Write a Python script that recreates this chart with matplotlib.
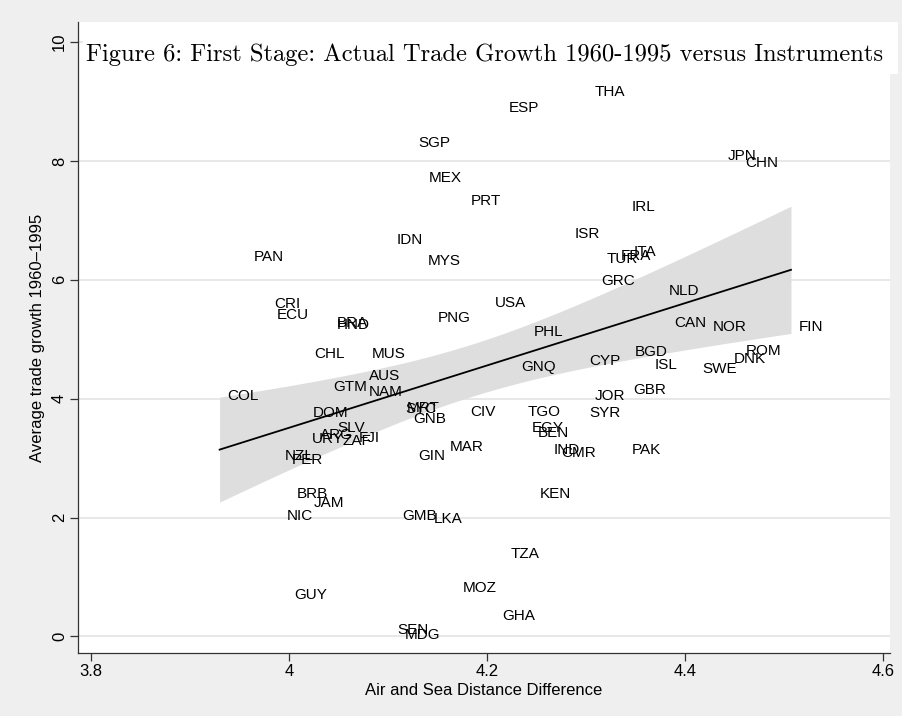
import matplotlib
matplotlib.use("Agg")
import matplotlib.pyplot as plt
from matplotlib.patches import Rectangle
import numpy as np

# country codes, air-and-sea distance difference, trade growth 1960-1995
countries = [
    "THA", "ESP", "SGP", "JPN", "CHN", "MEX", "PRT", "IRL", "IDN", "ISR",
    "PAN", "MYS", "ITA", "FRA", "TUR", "GRC", "NLD", "CRI", "ECU", "USA",
    "BRA", "HND", "PNG", "PHL", "CAN", "NOR", "FIN", "CHL", "MUS", "BGD",
    "ROM", "CYP", "ISL", "DNK", "SWE", "GNQ", "AUS", "GTM", "NAM", "COL",
    "GBR", "JOR", "MRT", "SYC", "DOM", "CIV", "TGO", "SYR", "GNB", "SLV",
    "ARG", "URY", "ZAF", "FJI", "EGY", "BEN", "IND", "CMR", "PAK", "MAR",
    "GIN", "NZL", "PER", "KEN", "BRB", "JAM", "NIC", "GMB", "LKA", "TZA",
    "GUY", "MOZ", "GHA", "SEN", "MDG",
]
dist_diff = [
    4.301, 4.214, 4.123, 4.435, 4.453, 4.133, 4.176, 4.338, 4.101, 4.281,
    3.957, 4.132, 4.340, 4.327, 4.313, 4.308, 4.376, 3.977, 3.980, 4.200,
    4.041, 4.041, 4.143, 4.240, 4.381, 4.420, 4.507, 4.018, 4.076, 4.342,
    4.454, 4.296, 4.362, 4.441, 4.410, 4.227, 4.073, 4.037, 4.073, 3.930,
    4.340, 4.301, 4.111, 4.110, 4.016, 4.175, 4.233, 4.296, 4.118, 4.041,
    4.024, 4.015, 4.046, 4.063, 4.238, 4.244, 4.260, 4.267, 4.338, 4.155,
    4.123, 3.988, 3.995, 4.246, 4.000, 4.017, 3.990, 4.107, 4.139, 4.216,
    3.998, 4.168, 4.208, 4.102, 4.109,
]
trade_growth = [
    9.16, 8.89, 8.30, 8.08, 7.97, 7.71, 7.33, 7.23, 6.67, 6.77,
    6.39, 6.32, 6.47, 6.40, 6.35, 5.98, 5.82, 5.60, 5.41, 5.61,
    5.28, 5.24, 5.36, 5.13, 5.28, 5.21, 5.21, 4.76, 4.76, 4.79,
    4.81, 4.64, 4.57, 4.67, 4.50, 4.54, 4.39, 4.20, 4.12, 4.05,
    4.15, 4.05, 3.85, 3.82, 3.76, 3.78, 3.78, 3.76, 3.66, 3.50,
    3.39, 3.33, 3.28, 3.34, 3.51, 3.43, 3.14, 3.08, 3.13, 3.18,
    3.04, 3.04, 2.96, 2.40, 2.39, 2.24, 2.03, 2.03, 1.97, 1.38,
    0.69, 0.81, 0.34, 0.10, 0.03,
]

# fitted line (the published fit is a bit steeper
# than an OLS on the labelled points alone)
fit_slope = 5.245
fit_intercept = -17.47

x = np.array(dist_diff)
y = np.array(trade_growth)

# 95% CI of the mean prediction around that line (like Stata lfitci)
n = len(x)
resid = y - (fit_intercept + fit_slope * x)
s = np.sqrt(np.sum(resid ** 2) / (n - 2))
sxx = np.sum((x - x.mean()) ** 2)
xs = np.linspace(x.min(), x.max(), 200)
fit = fit_intercept + fit_slope * xs
se = s * np.sqrt(1 / n + (xs - x.mean()) ** 2 / sxx)
tcrit = 1.993

sans = ["Liberation Sans", "DejaVu Sans"]
fig = plt.figure(figsize=(9.02, 7.16), dpi=100, facecolor="#efefef")
ax = fig.add_axes([78 / 902, 1 - 653 / 716, 812 / 902, 631 / 716])
ax.set_facecolor("white")

ax.set_xlim(3.787, 4.607)
ax.set_ylim(-0.28, 10.34)
ax.set_yticks([0, 2, 4, 6, 8, 10])
ax.set_xticks([3.8, 4.0, 4.2, 4.4, 4.6])
ax.set_xticklabels(["3.8", "4", "4.2", "4.4", "4.6"], family=sans, fontsize=12)
ax.set_yticklabels(["0", "2", "4", "6", "8", "10"], family=sans, fontsize=12,
                   rotation=90, va="center")
ax.tick_params(direction="out", length=6, width=0.9, color="#333333", pad=2)
ax.yaxis.grid(True, color="#e6e6e6", lw=1.3, zorder=0)
ax.set_axisbelow(True)
for side in ["top", "right"]:
    ax.spines[side].set_visible(False)
for side in ["left", "bottom"]:
    ax.spines[side].set_color("#333333")
    ax.spines[side].set_linewidth(0.9)

ax.fill_between(xs, fit - tcrit * se, fit + tcrit * se, color="#dedede",
                lw=0, zorder=1)
ax.plot(xs, fit, color="black", lw=1.3, zorder=2)

for c, xi, yi in zip(countries, x, y):
    ax.annotate(c, (xi, yi), xytext=(5.5, 0), textcoords="offset points",
                ha="left", va="center", fontsize=11, family=sans, zorder=3)

ax.set_xlabel("Air and Sea Distance Difference", family=sans, fontsize=12,
              labelpad=3)
ax.set_ylabel("Average trade growth 1960\u20131995", family=sans, fontsize=12,
              labelpad=5)

# the title sits on a white strip pasted over the top of the plot region
fig.add_artist(Rectangle((83 / 902, 1 - 74 / 716), (898 - 83) / 902, 52 / 716,
                         transform=fig.transFigure, facecolor="white",
                         edgecolor="none", zorder=5))
fig.text(485 / 902, 1 - 55 / 716,
         "Figure 6: First Stage: Actual Trade Growth 1960-1995 versus Instruments",
         ha="center", va="center", fontsize=17.7,
         family=["cmr10", "DejaVu Serif"], zorder=6)

fig.savefig("out.png", dpi=100, facecolor=fig.get_facecolor())
